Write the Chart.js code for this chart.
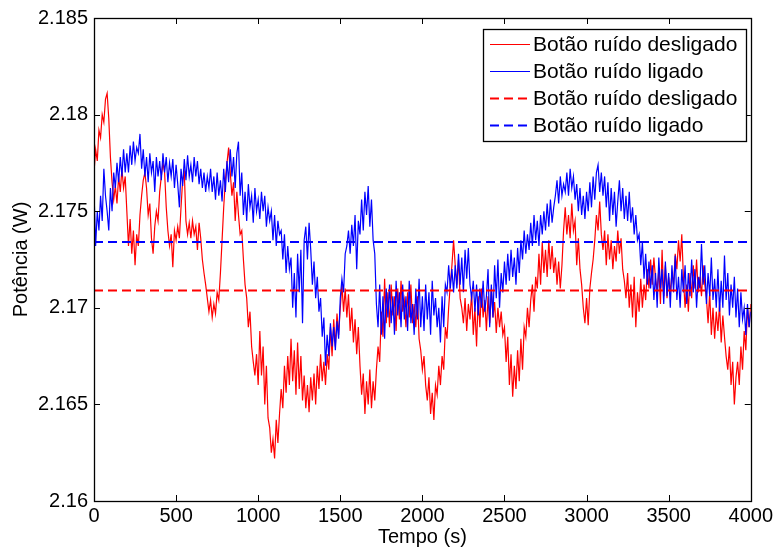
<!DOCTYPE html>
<html>
<head>
<meta charset="utf-8">
<title>Potência</title>
<script src="https://cdn.jsdelivr.net/npm/chart.js@4.4.1/dist/chart.umd.min.js"></script>
<style>
  html, body { margin: 0; padding: 0; background: #ffffff; }
  #wrap { width: 776px; height: 551px; }
</style>
</head>
<body>
<div id="wrap"><canvas id="c" width="776" height="551"></canvas></div>
<script>
// Sampling interval of the recorded series (s)
const sampleStep = 10;

// Power with the noise button off (W), one value every 10 s from 0 to 4000 s
const potenciaDesligado = [
  2.1770, 2.1782, 2.1776, 2.1792, 2.1788, 2.1800, 2.1796, 2.1808, 2.1811, 2.1798,
  2.1778, 2.1765, 2.1756, 2.1763, 2.1754, 2.1768, 2.1760, 2.1772, 2.1762, 2.1768,
  2.1750, 2.1732, 2.1746, 2.1728, 2.1740, 2.1722, 2.1738, 2.1732, 2.1748, 2.1758,
  2.1766, 2.1770, 2.1762, 2.1748, 2.1754, 2.1736, 2.1728, 2.1742, 2.1750, 2.1745,
  2.1760, 2.1768, 2.1775, 2.1770, 2.1752, 2.1740, 2.1732, 2.1738, 2.1721, 2.1740,
  2.1735, 2.1742, 2.1736, 2.1752, 2.1766, 2.1770, 2.1745, 2.1738, 2.1744, 2.1736,
  2.1745, 2.1738, 2.1742, 2.1730, 2.1744, 2.1736, 2.1725, 2.1718, 2.1712, 2.1705,
  2.1698, 2.1704, 2.1695, 2.1702, 2.1697, 2.1708, 2.1704, 2.1718, 2.1735, 2.1752,
  2.1766, 2.1775, 2.1783, 2.1770, 2.1758, 2.1765, 2.1745, 2.1760, 2.1748, 2.1738,
  2.1740, 2.1725, 2.1712, 2.1705, 2.1690, 2.1698, 2.1680, 2.1672, 2.1665, 2.1676,
  2.1660, 2.1688, 2.1665, 2.1680, 2.1650, 2.1670, 2.1643, 2.1638, 2.1625, 2.1632,
  2.1622, 2.1642, 2.1630, 2.1645, 2.1658, 2.1648, 2.1670, 2.1656, 2.1675, 2.1660,
  2.1684, 2.1662, 2.1678, 2.1655, 2.1682, 2.1658, 2.1675, 2.1652, 2.1665, 2.1648,
  2.1660, 2.1646, 2.1664, 2.1652, 2.1666, 2.1650, 2.1670, 2.1658, 2.1676, 2.1662,
  2.1672, 2.1660, 2.1676, 2.1668, 2.1690, 2.1675, 2.1694, 2.1680, 2.1697, 2.1686,
  2.1700, 2.1712, 2.1698, 2.1710, 2.1695, 2.1707, 2.1688, 2.1700, 2.1682, 2.1694,
  2.1676, 2.1690, 2.1670, 2.1655, 2.1666, 2.1645, 2.1662, 2.1650, 2.1668, 2.1648,
  2.1662, 2.1652, 2.1668, 2.1680, 2.1672, 2.1698, 2.1685, 2.1715, 2.1692, 2.1708,
  2.1690, 2.1712, 2.1696, 2.1706, 2.1688, 2.1710, 2.1694, 2.1714, 2.1698, 2.1704,
  2.1690, 2.1708, 2.1695, 2.1712, 2.1692, 2.1702, 2.1690, 2.1706, 2.1684, 2.1678,
  2.1668, 2.1675, 2.1660, 2.1652, 2.1664, 2.1645, 2.1656, 2.1642, 2.1660, 2.1655,
  2.1670, 2.1660, 2.1675, 2.1668, 2.1690, 2.1684, 2.1700, 2.1712, 2.1722, 2.1735,
  2.1722, 2.1712, 2.1725, 2.1705, 2.1700, 2.1692, 2.1705, 2.1688, 2.1702, 2.1694,
  2.1708, 2.1686, 2.1700, 2.1680, 2.1706, 2.1690, 2.1710, 2.1695, 2.1704, 2.1688,
  2.1706, 2.1692, 2.1710, 2.1695, 2.1703, 2.1687, 2.1700, 2.1690, 2.1698, 2.1686,
  2.1690, 2.1672, 2.1685, 2.1660, 2.1676, 2.1654, 2.1670, 2.1658, 2.1678, 2.1662,
  2.1684, 2.1668, 2.1690, 2.1685, 2.1700, 2.1690, 2.1704, 2.1712, 2.1698, 2.1716,
  2.1710, 2.1728, 2.1712, 2.1734, 2.1718, 2.1730, 2.1716, 2.1735, 2.1720, 2.1732,
  2.1718, 2.1726, 2.1712, 2.1724, 2.1710, 2.1722, 2.1740, 2.1752, 2.1738, 2.1748,
  2.1736, 2.1754, 2.1740, 2.1745, 2.1722, 2.1736, 2.1720, 2.1712, 2.1700, 2.1692,
  2.1705, 2.1691, 2.1710, 2.1718, 2.1725, 2.1735, 2.1748, 2.1740, 2.1755, 2.1738,
  2.1730, 2.1740, 2.1722, 2.1738, 2.1725, 2.1735, 2.1720, 2.1732, 2.1724, 2.1740,
  2.1728, 2.1736, 2.1720, 2.1714, 2.1705, 2.1718, 2.1700, 2.1712, 2.1695, 2.1716,
  2.1690, 2.1708, 2.1698, 2.1715, 2.1700, 2.1712, 2.1704, 2.1720, 2.1710, 2.1725,
  2.1712, 2.1726, 2.1715, 2.1709, 2.1720, 2.1702, 2.1730, 2.1706, 2.1722, 2.1705,
  2.1716, 2.1708, 2.1718, 2.1712, 2.1728, 2.1720, 2.1735, 2.1724, 2.1738, 2.1715,
  2.1700, 2.1712, 2.1698, 2.1718, 2.1705, 2.1722, 2.1710, 2.1725, 2.1708, 2.1716,
  2.1706, 2.1722, 2.1712, 2.1705, 2.1692, 2.1708, 2.1686, 2.1700, 2.1684, 2.1698,
  2.1688, 2.1702, 2.1682, 2.1696, 2.1685, 2.1675, 2.1668, 2.1680, 2.1660, 2.1672,
  2.1650, 2.1664, 2.1672, 2.1660, 2.1680, 2.1668, 2.1688, 2.1678, 2.1700, 2.1690,
  2.1702
];

// Power with the noise button on (W), same time base
const potenciaLigado = [
  2.1760, 2.1732, 2.1750, 2.1740, 2.1758, 2.1745, 2.1772, 2.1758, 2.1750, 2.1740,
  2.1762, 2.1750, 2.1770, 2.1762, 2.1775, 2.1765, 2.1778, 2.1768, 2.1782, 2.1770,
  2.1780, 2.1770, 2.1784, 2.1774, 2.1786, 2.1776, 2.1783, 2.1780, 2.1790, 2.1772,
  2.1782, 2.1768, 2.1778, 2.1765, 2.1780, 2.1770, 2.1776, 2.1760, 2.1778, 2.1768,
  2.1776, 2.1766, 2.1780, 2.1770, 2.1778, 2.1765, 2.1775, 2.1768, 2.1777, 2.1762,
  2.1774, 2.1764, 2.1752, 2.1772, 2.1763, 2.1777, 2.1766, 2.1779, 2.1768, 2.1774,
  2.1765, 2.1778, 2.1768, 2.1776, 2.1764, 2.1772, 2.1762, 2.1770, 2.1760, 2.1768,
  2.1762, 2.1772, 2.1760, 2.1768, 2.1756, 2.1770, 2.1758, 2.1766, 2.1755, 2.1772,
  2.1760, 2.1776, 2.1765, 2.1782, 2.1768, 2.1778, 2.1762, 2.1780, 2.1786, 2.1758,
  2.1770, 2.1748, 2.1760, 2.1745, 2.1764, 2.1752, 2.1758, 2.1744, 2.1762, 2.1750,
  2.1756, 2.1746, 2.1760, 2.1750, 2.1758, 2.1742, 2.1752, 2.1745, 2.1750, 2.1735,
  2.1748, 2.1732, 2.1745, 2.1738, 2.1740, 2.1725, 2.1738, 2.1718, 2.1732, 2.1720,
  2.1726, 2.1700, 2.1718, 2.1695, 2.1728, 2.1708, 2.1730, 2.1692, 2.1735, 2.1742,
  2.1725, 2.1744, 2.1730, 2.1712, 2.1724, 2.1705, 2.1716, 2.1698, 2.1705, 2.1685,
  2.1695, 2.1670, 2.1686, 2.1675, 2.1692, 2.1680, 2.1690, 2.1678, 2.1693, 2.1684,
  2.1705, 2.1715, 2.1708, 2.1728, 2.1732, 2.1740, 2.1728, 2.1743, 2.1732, 2.1748,
  2.1720, 2.1745, 2.1738, 2.1756, 2.1740, 2.1760, 2.1748, 2.1763, 2.1742, 2.1756,
  2.1735, 2.1728, 2.1702, 2.1690, 2.1712, 2.1686, 2.1706, 2.1684, 2.1710, 2.1695,
  2.1712, 2.1692, 2.1706, 2.1686, 2.1714, 2.1696, 2.1708, 2.1690, 2.1712, 2.1694,
  2.1706, 2.1688, 2.1714, 2.1692, 2.1702, 2.1686, 2.1710, 2.1694, 2.1715, 2.1690,
  2.1706, 2.1688, 2.1712, 2.1694, 2.1708, 2.1686, 2.1714, 2.1696, 2.1705, 2.1690,
  2.1700, 2.1682, 2.1706, 2.1690, 2.1712, 2.1708, 2.1722, 2.1710, 2.1720, 2.1708,
  2.1722, 2.1710, 2.1728, 2.1712, 2.1726, 2.1708, 2.1730, 2.1715, 2.1731, 2.1712,
  2.1705, 2.1714, 2.1698, 2.1712, 2.1696, 2.1710, 2.1700, 2.1714, 2.1698, 2.1706,
  2.1720, 2.1690, 2.1712, 2.1695, 2.1722, 2.1705, 2.1725, 2.1700, 2.1718, 2.1708,
  2.1724, 2.1712, 2.1728, 2.1714, 2.1730, 2.1716, 2.1726, 2.1712, 2.1731, 2.1718,
  2.1735, 2.1725, 2.1740, 2.1728, 2.1738, 2.1730, 2.1744, 2.1732, 2.1748, 2.1735,
  2.1745, 2.1732, 2.1748, 2.1738, 2.1750, 2.1740, 2.1754, 2.1742, 2.1756, 2.1744,
  2.1752, 2.1758, 2.1766, 2.1754, 2.1768, 2.1758, 2.1764, 2.1760, 2.1770, 2.1758,
  2.1772, 2.1762, 2.1768, 2.1756, 2.1764, 2.1750, 2.1762, 2.1748, 2.1758, 2.1746,
  2.1760, 2.1750, 2.1765, 2.1752, 2.1768, 2.1756, 2.1770, 2.1774, 2.1760, 2.1770,
  2.1758, 2.1768, 2.1752, 2.1765, 2.1745, 2.1762, 2.1748, 2.1760, 2.1742, 2.1755,
  2.1766, 2.1750, 2.1762, 2.1746, 2.1758, 2.1745, 2.1760, 2.1744, 2.1752, 2.1738,
  2.1748, 2.1735, 2.1738, 2.1722, 2.1734, 2.1715, 2.1728, 2.1712, 2.1724, 2.1710,
  2.1722, 2.1704, 2.1718, 2.1700, 2.1726, 2.1710, 2.1720, 2.1702, 2.1724, 2.1706,
  2.1718, 2.1700, 2.1722, 2.1708, 2.1727, 2.1704, 2.1716, 2.1700, 2.1720, 2.1708,
  2.1722, 2.1702, 2.1718, 2.1706, 2.1725, 2.1708, 2.1720, 2.1700, 2.1716, 2.1710,
  2.1733, 2.1712, 2.1722, 2.1702, 2.1718, 2.1706, 2.1726, 2.1704, 2.1715, 2.1700,
  2.1720, 2.1698, 2.1714, 2.1700, 2.1727, 2.1704, 2.1718, 2.1696, 2.1712, 2.1700,
  2.1716, 2.1695, 2.1710, 2.1690, 2.1708, 2.1694, 2.1700, 2.1686, 2.1702, 2.1690,
  2.1698
];

// Mean power of each run (W), drawn as dashed reference lines
const mediaDesligado = 2.1709;
const mediaLigado = 2.1734;

// Axis ranges, ticks and labels
const xRange = [0, 4000];
const xTickLabels = ['0', '500', '1000', '1500', '2000', '2500', '3000', '3500', '4000'];
const yRange = [2.16, 2.185];
const yTickLabels = ['2.16', '2.165', '2.17', '2.175', '2.18', '2.185'];

const seriesLabels = ['Botão ruído desligado', 'Botão ruído ligado', 'Botão ruído desligado', 'Botão ruído ligado'];

const FONT = '"Liberation Sans", Arial, Helvetica, sans-serif';
const RED = '#ff0000';
const BLUE = '#0000ff';

function toPoints(values) {
  return values.map((v, i) => ({ x: i * sampleStep, y: v }));
}
function flatLine(value) {
  return [{ x: xRange[0], y: value }, { x: xRange[1], y: value }];
}

// Box around the axes with inward ticks on all four sides
const boxAndTicks = {
  id: 'boxAndTicks',
  afterDatasetsDraw(chart) {
    const { ctx, chartArea: a, scales } = chart;
    const len = 6;
    ctx.save();
    ctx.strokeStyle = '#000';
    ctx.lineWidth = 1;
    ctx.beginPath();
    scales.x.ticks.forEach(t => {
      const px = Math.round(scales.x.getPixelForValue(t.value)) + 0.5;
      ctx.moveTo(px, a.bottom); ctx.lineTo(px, a.bottom - len);
      ctx.moveTo(px, a.top); ctx.lineTo(px, a.top + len);
    });
    scales.y.ticks.forEach(t => {
      const py = Math.round(scales.y.getPixelForValue(t.value)) + 0.5;
      ctx.moveTo(a.left, py); ctx.lineTo(a.left + len, py);
      ctx.moveTo(a.right, py); ctx.lineTo(a.right - len, py);
    });
    ctx.stroke();
    ctx.lineWidth = 1.3;
    ctx.strokeRect(Math.round(a.left) + 0.5, Math.round(a.top) + 0.5,
                   Math.round(a.right - a.left), Math.round(a.bottom - a.top));
    ctx.restore();
  }
};

// Legend box inside the plot, upper right
const boxLegend = {
  id: 'boxLegend',
  afterDraw(chart) {
    const { ctx } = chart;
    const x0 = 483, y0 = 29, w = 263, h = 112;
    const rowH = 27, firstRow = 44;
    ctx.save();
    ctx.fillStyle = '#fff';
    ctx.fillRect(x0, y0, w, h);
    ctx.strokeStyle = '#000';
    ctx.lineWidth = 1.3;
    ctx.strokeRect(x0 + 0.5, y0 + 0.5, w, h);
    ctx.font = '21px ' + FONT;
    ctx.textBaseline = 'middle';
    ctx.textAlign = 'left';
    chart.data.datasets.forEach((ds, i) => {
      const y = firstRow + i * rowH;
      ctx.beginPath();
      ctx.strokeStyle = ds.borderColor;
      ctx.lineWidth = ds.borderWidth;
      ctx.setLineDash(ds.borderDash || []);
      ctx.moveTo(490, y + 0.5);
      ctx.lineTo(530, y + 0.5);
      ctx.stroke();
      ctx.setLineDash([]);
      ctx.fillStyle = '#000';
      ctx.fillText(ds.label, 533, y + 1);
    });
    ctx.restore();
  }
};

new Chart(document.getElementById('c'), {
  type: 'line',
  data: {
    datasets: [
      { label: seriesLabels[0], data: toPoints(potenciaDesligado), borderColor: RED, borderWidth: 1.2, pointRadius: 0, tension: 0, order: 3 },
      { label: seriesLabels[1], data: toPoints(potenciaLigado), borderColor: BLUE, borderWidth: 1.2, pointRadius: 0, tension: 0, order: 2 },
      { label: seriesLabels[2], data: flatLine(mediaDesligado), borderColor: RED, borderWidth: 2, borderDash: [9, 5], pointRadius: 0, order: 1 },
      { label: seriesLabels[3], data: flatLine(mediaLigado), borderColor: BLUE, borderWidth: 2, borderDash: [9, 5], pointRadius: 0, order: 0 }
    ]
  },
  options: {
    responsive: false,
    animation: false,
    events: [],
    layout: { padding: { top: 16, right: 25, left: 0, bottom: 0 } },
    plugins: { legend: { display: false }, tooltip: { enabled: false } },
    scales: {
      x: {
        type: 'linear',
        min: xRange[0], max: xRange[1],
        afterFit(s) { s.height = 50; },
        grid: { display: false, drawTicks: false },
        border: { display: false },
        ticks: {
          stepSize: 500, autoSkip: false, maxRotation: 0, padding: 3,
          color: '#000', font: { family: FONT, size: 20 },
          callback: (v, i) => xTickLabels[i]
        },
        title: { display: true, text: 'Tempo (s)', color: '#000', font: { family: FONT, size: 20 }, padding: { top: 0, bottom: 2 } }
      },
      y: {
        type: 'linear',
        min: yRange[0], max: yRange[1],
        afterFit(s) { s.width = 94; },
        grid: { display: false, drawTicks: false },
        border: { display: false },
        ticks: {
          stepSize: 0.005, autoSkip: false, padding: 6,
          color: '#000', font: { family: FONT, size: 20 },
          callback: (v, i) => yTickLabels[i]
        },
        title: { display: true, text: 'Potência (W)', color: '#000', font: { family: FONT, size: 20 }, padding: { top: 9, bottom: 0 } }
      }
    }
  },
  plugins: [boxAndTicks, boxLegend]
});
</script>
</body>
</html>
